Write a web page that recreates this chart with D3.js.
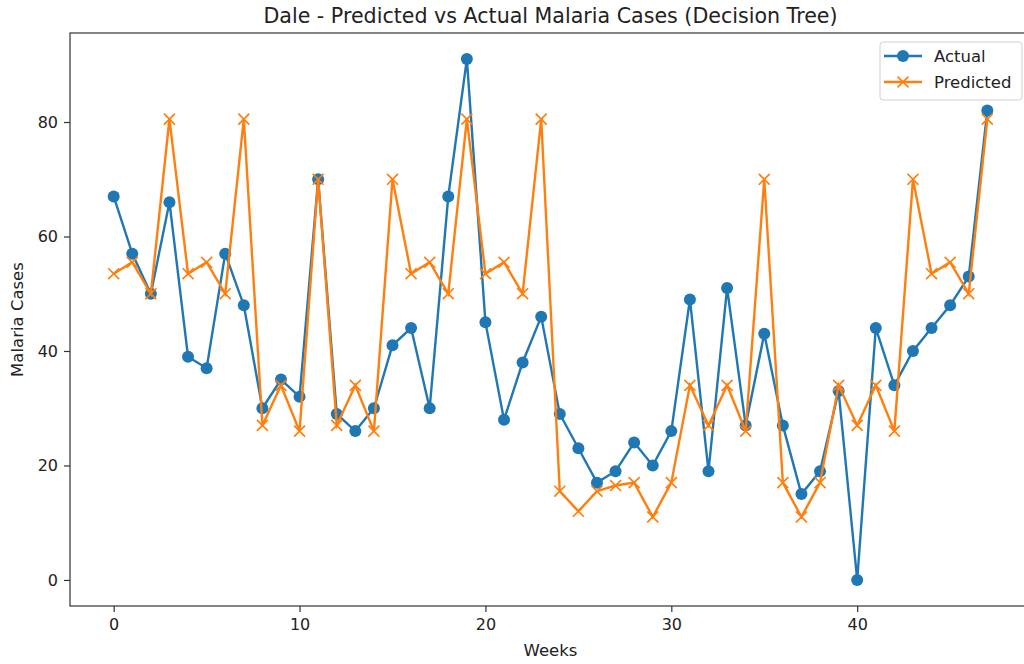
<!DOCTYPE html>
<html>
<head>
<meta charset="utf-8">
<script src="https://cdn.jsdelivr.net/npm/d3@7"></script>
<style>
  body { margin: 0; background: #fff; }
  svg { display: block; font-family: "DejaVu Sans", sans-serif; }
</style>
</head>
<body>
<div id="chart"></div>
<script>
// data
const weeks = [0,1,2,3,4,5,6,7,8,9,10,11,12,13,14,15,16,17,18,19,20,21,22,23,
               24,25,26,27,28,29,30,31,32,33,34,35,36,37,38,39,40,41,42,43,44,45,46,47];
const actual = [67,57,50,66,39,37,57,48,30,35,32,70,29,26,30,41,44,30,67,91,45,28,38,46,
                29,23,17,19,24,20,26,49,19,51,27,43,27,15,19,33,0,44,34,40,44,48,53,82];
const predicted = [53.5,55.5,50,80.5,53.5,55.5,50,80.5,27,34,26,70,27,34,26,70,53.5,55.5,50,80.5,53.5,55.5,50,80.5,
                   15.5,12,15.5,16.5,17,11,17,34,27,34,26,70,17,11,17,34,27,34,26,70,53.5,55.5,50,80.5];
const xTicks = [0, 10, 20, 30, 40];
const yTicks = [0, 20, 40, 60, 80];

const width = 1024, height = 664;
const plotLeft = 70, plotTop = 33, plotRight = 1031, plotBottom = 606;
const blue = "#1f77b4", orange = "#ff7f0e";

const svg = d3.select("#chart").append("svg")
  .attr("width", width).attr("height", height);

// matplotlib style 5% margins
const x = d3.scaleLinear().domain([-2.35, 49.35]).range([plotLeft, plotRight]);
const y = d3.scaleLinear().domain([-4.55, 95.55]).range([plotBottom, plotTop]);

// axes
const xAxis = svg.append("g")
  .attr("transform", "translate(0," + plotBottom + ")")
  .call(d3.axisBottom(x).tickValues(xTicks).tickSize(6).tickPadding(7).tickSizeOuter(0));
const yAxis = svg.append("g")
  .attr("transform", "translate(" + plotLeft + ",0)")
  .call(d3.axisLeft(y).tickValues(yTicks).tickSize(6).tickPadding(6).tickSizeOuter(0));

[xAxis, yAxis].forEach(function (a) {
  a.select(".domain").remove();
  a.selectAll(".tick line").attr("stroke", "#333").attr("stroke-width", 1.2);
  a.selectAll(".tick text")
    .attr("fill", "#222")
    .style("font-size", "16px")
    .style("font-family", "DejaVu Sans");
});

// spines
svg.append("rect")
  .attr("x", plotLeft).attr("y", plotTop)
  .attr("width", plotRight - plotLeft).attr("height", plotBottom - plotTop)
  .attr("fill", "none")
  .attr("stroke", "#333")
  .attr("stroke-width", 1.2);

const line = d3.line()
  .x(function (d, i) { return x(weeks[i]); })
  .y(function (d) { return y(d); });

// actual series
svg.append("path")
  .datum(actual)
  .attr("d", line)
  .attr("fill", "none")
  .attr("stroke", blue)
  .attr("stroke-width", 2.4);

svg.append("g").selectAll("circle")
  .data(actual)
  .enter().append("circle")
  .attr("cx", function (d, i) { return x(weeks[i]); })
  .attr("cy", function (d) { return y(d); })
  .attr("r", 6)
  .attr("fill", blue);

// predicted series
svg.append("path")
  .datum(predicted)
  .attr("d", line)
  .attr("fill", "none")
  .attr("stroke", orange)
  .attr("stroke-width", 2.4);

const cross = d3.symbol().type(d3.symbolX).size(80);
svg.append("g").selectAll("path")
  .data(predicted)
  .enter().append("path")
  .attr("transform", function (d, i) { return "translate(" + x(weeks[i]) + "," + y(d) + ")"; })
  .attr("d", cross)
  .attr("fill", "none")
  .attr("stroke", orange)
  .attr("stroke-width", 1.7);

// title and labels
svg.append("text")
  .attr("x", (plotLeft + plotRight) / 2).attr("y", 23)
  .attr("text-anchor", "middle")
  .attr("fill", "#222")
  .style("font-size", "20.6px")
  .text("Dale - Predicted vs Actual Malaria Cases (Decision Tree)");

svg.append("text")
  .attr("x", (plotLeft + plotRight) / 2).attr("y", 656)
  .attr("text-anchor", "middle")
  .attr("fill", "#222")
  .style("font-size", "16.5px")
  .text("Weeks");

svg.append("text")
  .attr("transform", "translate(23," + ((plotTop + plotBottom) / 2) + ") rotate(-90)")
  .attr("text-anchor", "middle")
  .attr("fill", "#222")
  .style("font-size", "16.5px")
  .text("Malaria Cases");

// legend
const legend = svg.append("g").attr("transform", "translate(880,42)");
legend.append("rect")
  .attr("width", 142).attr("height", 58)
  .attr("rx", 3)
  .attr("fill", "#fff")
  .attr("fill-opacity", 0.8)
  .attr("stroke", "#d0d0d0");

const items = [{name: "Actual", color: blue}, {name: "Predicted", color: orange}];
items.forEach(function (it, i) {
  const g = legend.append("g").attr("transform", "translate(0," + (14 + i * 26) + ")");
  g.append("line")
    .attr("x1", 4).attr("x2", 42)
    .attr("stroke", it.color).attr("stroke-width", 2.4);
  if (i === 0) {
    g.append("circle").attr("cx", 23).attr("r", 6).attr("fill", it.color);
  } else {
    g.append("path").attr("transform", "translate(23,0)").attr("d", cross)
      .attr("fill", "none").attr("stroke", it.color).attr("stroke-width", 1.7);
  }
  g.append("text")
    .attr("x", 54).attr("y", 6)
    .attr("fill", "#222")
    .style("font-size", "16.5px")
    .text(it.name);
});
</script>
</body>
</html>
